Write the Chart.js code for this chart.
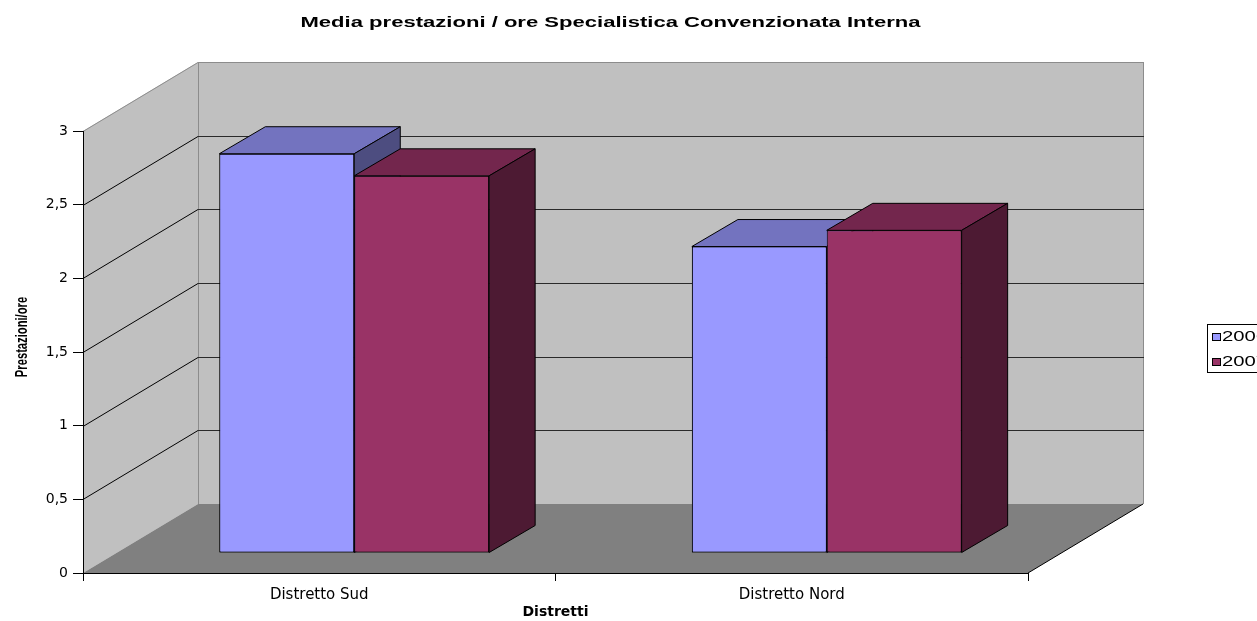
<!DOCTYPE html>
<html>
<head>
<meta charset="utf-8">
<script src="https://cdn.jsdelivr.net/npm/chart.js@4.4.1/dist/chart.umd.min.js"></script>
<style>
  html, body { margin: 0; padding: 0; background: #fff; }
  canvas { display: block; }
</style>
</head>
<body>
<canvas id="grafico" width="1257" height="621"></canvas>
<script>
// dati
const distretti = ['Distretto Sud', 'Distretto Nord'];
const anni = ['2006', '2007'];
const valori2006 = [2.71, 2.08];
const valori2007 = [2.56, 2.19];
const yTicks = [0, 0.5, 1, 1.5, 2, 2.5, 3];

// colori stile Excel: fronte, faccia superiore, fianco
const fronte = ['#9999ff', '#993366'];
const cima = ['#7373bf', '#73264d'];
const fianco = ['#4d4d80', '#4d1a33'];

// profondita' della scatola 3D e delle colonne
const muroDX = 115, muroDY = -69;
const barDX = 46, barDY = -27;
const spostX = 35, spostY = -20;

function faccia(ctx, punti, colore) {
  ctx.beginPath();
  ctx.moveTo(punti[0][0], punti[0][1]);
  for (let i = 1; i < punti.length; i++) ctx.lineTo(punti[i][0], punti[i][1]);
  ctx.closePath();
  ctx.fillStyle = colore;
  ctx.fill();
  ctx.stroke();
}

function testoLargo(ctx, testo, x, y, font, sx, align) {
  ctx.save();
  ctx.font = font;
  ctx.fillStyle = '#000';
  ctx.translate(x, y);
  ctx.scale(sx, 1);
  ctx.textAlign = align;
  ctx.textBaseline = 'alphabetic';
  ctx.fillText(testo, 0, 0);
  ctx.restore();
}

const scatola3d = {
  id: 'scatola3d',
  beforeDraw(chart) {
    const {ctx, chartArea: a, scales: {y}} = chart;
    const L = a.left, R = a.right, T = a.top, B = a.bottom;
    ctx.save();
    ctx.fillStyle = '#c0c0c0';
    ctx.fillRect(L + muroDX, T + muroDY, R - L, B - T);
    ctx.beginPath();
    ctx.moveTo(L, T);
    ctx.lineTo(L + muroDX, T + muroDY);
    ctx.lineTo(L + muroDX, B + muroDY);
    ctx.lineTo(L, B);
    ctx.closePath();
    ctx.fill();
    ctx.fillStyle = '#808080';
    ctx.beginPath();
    ctx.moveTo(L, B);
    ctx.lineTo(L + muroDX, B + muroDY);
    ctx.lineTo(R + muroDX, B + muroDY);
    ctx.lineTo(R, B);
    ctx.closePath();
    ctx.fill();

    ctx.lineWidth = 1;
    // spigoli delle pareti
    ctx.strokeStyle = '#8c8c8c';
    ctx.beginPath();
    ctx.moveTo(L + muroDX + 0.5, T + muroDY);
    ctx.lineTo(L + muroDX + 0.5, B + muroDY);
    ctx.moveTo(R + muroDX + 0.5, T + muroDY);
    ctx.lineTo(R + muroDX + 0.5, B + muroDY);
    ctx.stroke();

    yTicks.forEach(v => {
      if (v === 0) return;
      const py = Math.round(y.getPixelForValue(v)) + 0.5;
      const alto = v === yTicks[yTicks.length - 1];
      ctx.strokeStyle = alto ? '#8c8c8c' : '#2a2a2a';
      ctx.beginPath();
      ctx.moveTo(L + muroDX, py + muroDY);
      ctx.lineTo(R + muroDX + 1, py + muroDY);
      ctx.stroke();
      ctx.strokeStyle = alto ? '#8c8c8c' : '#000000';
      ctx.beginPath();
      ctx.moveTo(L, py);
      ctx.lineTo(L + muroDX, py + muroDY);
      ctx.stroke();
    });

    ctx.strokeStyle = '#000';
    ctx.beginPath();
    ctx.moveTo(R, B);
    ctx.lineTo(R + muroDX, B + muroDY);
    ctx.stroke();
    ctx.restore();
  },
  beforeDatasetsDraw(chart) {
    chart.ctx.save();
    chart.ctx.translate(spostX, spostY);
  },
  afterDatasetsDraw(chart) {
    const ctx = chart.ctx;
    chart.data.datasets.forEach((ds, i) => {
      chart.getDatasetMeta(i).data.forEach(bar => {
        bar.draw(ctx);
        const {x, y, base, width} = bar.getProps(['x', 'y', 'base', 'width'], true);
        const l = x - width / 2, r = x + width / 2;
        ctx.lineWidth = 1;
        ctx.strokeStyle = '#000';
        faccia(ctx, [[l, y], [l + barDX, y + barDY], [r + barDX, y + barDY], [r, y]], cima[i]);
        faccia(ctx, [[r, y], [r + barDX, y + barDY], [r + barDX, base + barDY], [r, base]], fianco[i]);
      });
    });
    ctx.restore();
  },
  afterDraw(chart) {
    const ctx = chart.ctx;
    testoLargo(ctx, 'Media prestazioni / ore Specialistica Convenzionata Interna', 610.5, 27,
      'bold 15px "Liberation Sans", Arial, sans-serif', 1.47, 'center');

    // titolo asse y, stretto come nell'originale
    ctx.save();
    ctx.translate(23, 337);
    ctx.rotate(-Math.PI / 2);
    ctx.scale(0.7, 1);
    ctx.font = 'bold 16px "Liberation Sans", Arial, sans-serif';
    ctx.fillStyle = '#000';
    ctx.textAlign = 'center';
    ctx.textBaseline = 'middle';
    ctx.fillText('Prestazioni/ore', 0, 0);
    ctx.restore();

    // legenda (tagliata dal bordo come nell'originale)
    ctx.save();
    ctx.strokeStyle = '#000';
    ctx.lineWidth = 1;
    ctx.strokeRect(1207.5, 324.5, 80, 48);
    anni.forEach((anno, i) => {
      const y0 = 333 + i * 25;
      ctx.fillStyle = fronte[i];
      ctx.fillRect(1212, y0, 9, 8);
      ctx.strokeRect(1212.5, y0 + 0.5, 8, 7);
      testoLargo(ctx, anno, 1222, 341 + i * 25, '14px "Liberation Sans", Arial, sans-serif', 1.45, 'left');
    });
    ctx.restore();
  }
};

const serie = [valori2006, valori2007].map((valori, i) => ({
  label: anni[i],
  data: valori,
  backgroundColor: fronte[i],
  borderColor: '#000',
  borderWidth: 1,
  borderSkipped: false,
  categoryPercentage: 0.571,
  barPercentage: 1,
  clip: false
}));

new Chart(document.getElementById('grafico'), {
  type: 'bar',
  data: { labels: distretti, datasets: serie },
  options: {
    responsive: false,
    animation: false,
    layout: { padding: { top: 131, right: 229, bottom: 0, left: 0 } },
    plugins: {
      legend: { display: false },
      title: { display: false },
      tooltip: { enabled: false }
    },
    scales: {
      x: {
        offset: true,
        grid: { offset: true, drawOnChartArea: false, tickLength: 8, tickColor: '#000' },
        border: { color: '#000' },
        ticks: { color: '#000', font: { family: 'DejaVu Sans', size: 15 }, padding: 5, maxRotation: 0 },
        title: {
          display: true, text: 'Distretti', color: '#000',
          font: { family: 'DejaVu Sans', size: 14, weight: 'bold' },
          padding: { top: 0, bottom: 0 }
        },
        afterFit(s) { s.height = 48; }
      },
      y: {
        min: 0,
        max: 3,
        afterBuildTicks(s) { s.ticks = yTicks.map(v => ({ value: v })); },
        ticks: {
          color: '#000', padding: 5,
          font: { family: 'DejaVu Sans', size: 14 },
          callback: v => String(v).replace('.', ',')
        },
        grid: { drawOnChartArea: false, tickLength: 10, tickColor: '#000' },
        border: { color: '#000' },
        afterFit(s) { s.width = 83; }
      }
    }
  },
  plugins: [scatola3d]
});
</script>
</body>
</html>
